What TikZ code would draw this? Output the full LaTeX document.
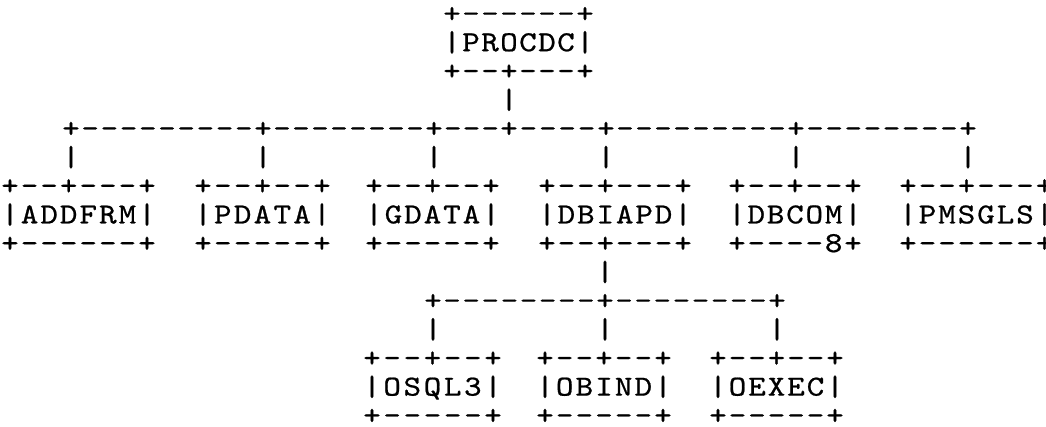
\documentclass[tikz,border=0pt]{standalone}
\usepackage{graphicx}
\usepackage{fontspec}
\newfontfamily\asciifont[FakeBold=0.7]{lmmono10-regular.otf}
\usetikzlibrary{calc}
\makeatletter
\newcommand\ch[1]{\scalebox{1.15}[1]{#1}}
\newcommand\spreadstr[1]{\spr@#1\@nil}
\def\spr@#1{\ifx#1\@nil\else\makebox[\cp]{\ch{#1}}\expandafter\spr@\fi}
\makeatother
\def\rowh{28.7}
\def\bo{7.5}
\tikzset{txt/.style={inner sep=0pt, outer sep=0pt, font=\asciifont\fontsize{29}{31}\selectfont, anchor=base}}
\newcommand\asciibox[7]{%
  \node[txt, anchor=base west] (#1-t) at (#2-#3/2, #4-\rowh+\bo) {\def\cp{#3pt}\spreadstr{#5}};
  \node[txt, anchor=base west] (#1)   at (#2-#3/2, #4+\bo)       {\def\cp{#3pt}\spreadstr{#6}};
  \node[txt, anchor=base west] (#1-b) at (#2-#3/2, #4+\rowh+\bo) {\def\cp{#3pt}\spreadstr{#7}};
}
\begin{document}
\begin{tikzpicture}[x=1pt,y=-1pt]
\fill[white] (0,0) rectangle (1046,426);
\useasboundingbox (0,0) rectangle (1046,426);
% boxes
\asciibox{procdc}{452}{19.0}{43.7}{+------+}{|PROCDC|}{+--+---+}
\asciibox{addfrm}{10}{19.57}{215.9}{+--+---+}{|ADDFRM|}{+------+}
\asciibox{pdata}{203}{19.83}{215.9}{+--+--+}{|PDATA|}{+-----+}
\asciibox{gdata}{374}{19.5}{215.9}{+--+--+}{|GDATA|}{+-----+}
\asciibox{dbiapd}{547}{19.43}{215.9}{+--+---+}{|DBIAPD|}{+--+---+}
\asciibox{dbcom}{737}{19.33}{215.9}{+--+--+}{|DBCOM|}{+----8+}
\asciibox{pmsgls}{908}{19.5}{215.9}{+--+---+}{|PMSGLS|}{+------+}
\asciibox{osql3}{372}{20.17}{388.1}{+--+--+}{|OSQL3|}{+-----+}
\asciibox{obind}{545}{19.67}{388.1}{+--+--+}{|OBIND|}{+-----+}
\asciibox{oexec}{718}{19.5}{388.1}{+--+--+}{|OEXEC|}{+-----+}
% junctions
\foreach \nm/\x in {j1/71, j2/263, j3/434, j4/509, j5/606, j6/796, j7/968}
  \node[txt] (\nm) at (\x, 129.8+\bo) {\ch{+}};
\foreach \nm/\x in {k1/433, k2/605, k3/777}
  \node[txt] (\nm) at (\x, 302+\bo) {\ch{+}};
% horizontal connectors
\foreach \a/\b/\n in {j1/j2/10, j2/j3/9, j3/j4/4, j4/j5/5, j5/j6/10, j6/j7/9, k1/k2/9, k2/k3/9}{
  \pgfmathtruncatemacro\m{\n-1}
  \foreach \k in {1,...,\m}
    \node[txt] (\a-\b-\k) at ($(\a.base)!\k/\n!(\b.base)$) {\ch{-}};
}
% vertical connectors
\node[txt] (vtop) at ($(j4.base)+(0,-\rowh)$) {\ch{|}};
\foreach \nm in {j1,j2,j3,j5,j6,j7}
  \node[txt] (v-\nm) at ($(\nm.base)+(0,\rowh)$) {\ch{|}};
\node[txt] (vmid) at ($(k2.base)+(0,-\rowh)$) {\ch{|}};
\foreach \nm in {k1,k2,k3}
  \node[txt] (v-\nm) at ($(\nm.base)+(0,\rowh)$) {\ch{|}};
\end{tikzpicture}
\end{document}
